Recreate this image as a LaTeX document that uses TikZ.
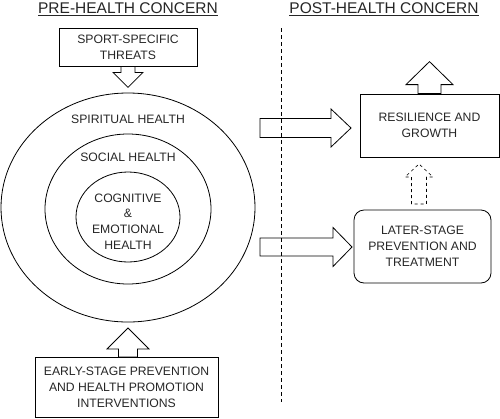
\documentclass[tikz,border=0pt]{standalone}
\usepackage{fontspec}
\setmainfont{Liberation Sans}
\usetikzlibrary{arrows.meta,positioning,shapes.geometric}

% block arrow: [style]{tail}{angle}{length}{shaft width}{head width}{head length}
\newcommand{\fatarrow}[7][]{%
  \draw[#1, shift={(#2)}, rotate=#3] (0,-#5/2) -- (#4-#7,-#5/2) -- (#4-#7,-#6/2) -- (#4,0) -- (#4-#7,#6/2) -- (#4-#7,#5/2) -- (0,#5/2) -- cycle;}

\begin{document}
\begin{tikzpicture}[x=1pt, y=-1pt, line width=0.8pt, every node/.style={font=\fontsize{12.2}{15.8}\selectfont, text=black!85}, heading/.style={font=\fontsize{15.5}{18}\selectfont}, box/.style={draw, align=center, inner sep=0pt}, ring/.style={draw, ellipse, inner sep=0pt}, divider/.style={dash pattern=on 4pt off 3pt, line width=0.6pt}]
\useasboundingbox (0,0) rectangle (500,418);
% headings
\node[heading] (pre) at (128,9) {\underline{PRE-HEALTH CONCERN}};
\node[heading] (post) at (384,9) {\underline{POST-HEALTH CONCERN}};
% health rings
\node[ring, minimum width=254, minimum height=229] (spiritual) at (128,207.5) {};
\node[ring, minimum width=166, minimum height=150] (social) at (128,209) {};
\node[ring, minimum width=104, minimum height=90] (cogemo) at (128,217) {};
\node (spiritualtext) at (128,119) {SPIRITUAL HEALTH};
\node (socialtext) at (128,157) {SOCIAL HEALTH};
\node[align=center] (cogemotext) at (128,221.5) {COGNITIVE\\\&\\EMOTIONAL\\HEALTH};
% boxes
\node[box, minimum width=138, minimum height=38] (threats) at (128,47) {SPORT-SPECIFIC\\THREATS};
\node[box, minimum width=183, minimum height=60] (early) at (126.5,387) {EARLY-STAGE PREVENTION\\AND HEALTH PROMOTION\\INTERVENTIONS};
\node[box, minimum width=139, minimum height=63] (resilience) at (429.5,125.5) {RESILIENCE AND\\GROWTH};
\node[box, rounded corners=10pt, minimum width=137, minimum height=73] (later) at (422.5,246.5) {LATER-STAGE\\PREVENTION AND\\TREATMENT};
\coordinate (earlytail) at (128,357);
\coordinate (resiltail) at (260,128);
\coordinate (latertail) at (260,247);
\coordinate (dashtail) at (419,204);
% block arrows
\fatarrow{threats.south}{-90}{21}{14}{30}{15}
\fatarrow{earlytail}{90}{29}{19}{42}{21}
\fatarrow{resiltail}{0}{91}{19}{38}{20}
\fatarrow{latertail}{0}{92}{18}{39}{19}
\fatarrow[dashed, line width=0.6pt]{dashtail}{90}{40}{15}{28}{13}
\fatarrow{resilience.north}{90}{32}{23}{47}{23}
% divider
\draw[divider] (281,28) -- (281,402);
\end{tikzpicture}
\end{document}
